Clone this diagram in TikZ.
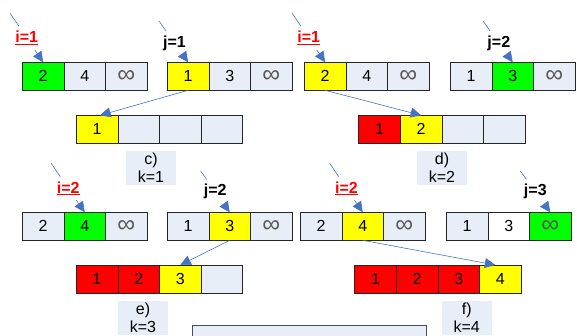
\documentclass[tikz,border=0pt]{standalone}
\usepackage{fontspec}
\setmainfont{Liberation Sans}
\usetikzlibrary{arrows.meta}
\definecolor{light}{HTML}{E8EEF7}
\definecolor{arrowblue}{HTML}{4472C4}
\definecolor{infgray}{HTML}{595959}
\definecolor{cgreen}{HTML}{00FF00}
\definecolor{cyellow}{HTML}{FFFF00}
\definecolor{cred}{HTML}{FF0000}
\newcommand{\infsym}{{\color{infgray}\fontsize{25}{25}\selectfont ∞}}
\tikzset{
  cell/.style={draw=black!85, line width=0.8pt, minimum width=41.6pt, minimum height=28pt,
    inner sep=0pt, outer sep=0pt, font=\fontsize{16}{16}\selectfont, fill=light},
  nxt/.style={anchor=west},
  ilbl/.style={font=\fontsize{16}{16}\selectfont\bfseries, text=red, minimum height=23pt, inner sep=1pt},
  jlbl/.style={font=\fontsize{16}{16}\selectfont\bfseries, text=black, minimum height=24pt, inner sep=1pt},
  lead/.style={draw=arrowblue, line width=0.6pt},
  arr/.style={draw=arrowblue, line width=0.6pt, -{Triangle[length=10.5pt,width=10pt]}, arrowblue},
  klbl/.style={fill=light, minimum width=50pt, minimum height=34pt, inner sep=0pt, align=center,
    font=\fontsize{16}{18.4}\selectfont},
}
\begin{document}
\begin{tikzpicture}[x=1pt,y=-1pt]
\useasboundingbox (0,0) rectangle (577,336);
\clip (0,0) rectangle (577,336);
% ---------- panel c
\node[cell,fill=cgreen,anchor=west] (cA1) at (22.3,76.3) {2};
\node[cell,nxt] (cA2) at (cA1.east) {4};
\node[cell,nxt] (cA3) at (cA2.east) {\infsym};
\node[cell,fill=cyellow,anchor=west] (cB1) at (167.3,76.3) {1};
\node[cell,nxt] (cB2) at (cB1.east) {3};
\node[cell,nxt] (cB3) at (cB2.east) {\infsym};
\node[cell,fill=cyellow,anchor=west] (cR1) at (76.3,129.3) {1};
\node[cell,nxt] (cR2) at (cR1.east) {};
\node[cell,nxt] (cR3) at (cR2.east) {};
\node[cell,nxt] (cR4) at (cR3.east) {};
\node[klbl] (cL) at (151,168) {c)\\k=1};
\coordinate (ciS) at (10,13);
\path (ciS) -- (cA1.north) node[pos=0.507,ilbl] (ci) {\underline{i=1}};
\draw[lead] (ciS) -- (ci);
\draw[arr] (ci) -- (cA1.north);
\coordinate (cjS) at (159,21);
\path (cjS) -- (cB1.north) node[pos=0.533,jlbl] (cj) {j=1};
\draw[lead] (cjS) -- (cj);
\draw[arr] (cj) -- (cB1.north);
\draw[arr] (cB1.south) -- ([xshift=3pt]cR1.north);
% ---------- panel d
\node[cell,fill=cyellow,anchor=west] (dA1) at (304.3,76.3) {2};
\node[cell,nxt] (dA2) at (dA1.east) {4};
\node[cell,nxt] (dA3) at (dA2.east) {\infsym};
\node[cell,anchor=west] (dB1) at (450.3,76.3) {1};
\node[cell,nxt,fill=cgreen] (dB2) at (dB1.east) {3};
\node[cell,nxt] (dB3) at (dB2.east) {\infsym};
\node[cell,fill=cred,anchor=west] (dR1) at (358.7,129.3) {1};
\node[cell,nxt,fill=cyellow] (dR2) at (dR1.east) {2};
\node[cell,nxt] (dR3) at (dR2.east) {};
\node[cell,nxt] (dR4) at (dR3.east) {};
\node[klbl] (dL) at (442,168) {d)\\k=2};
\coordinate (diS) at (292,13);
\path (diS) -- (dA1.north) node[pos=0.507,ilbl] (di) {\underline{i=1}};
\draw[lead] (diS) -- (di);
\draw[arr] (di) -- (dA1.north);
\coordinate (djS) at (483,21);
\path (djS) -- (dB2.north) node[pos=0.533,jlbl] (dj) {j=2};
\draw[lead] (djS) -- (dj);
\draw[arr] (dj) -- (dB2.north);
\draw[arr] (dA1.south) -- (dR2.north);
% ---------- panel e
\node[cell,anchor=west] (eA1) at (22.3,226.3) {2};
\node[cell,nxt,fill=cgreen] (eA2) at (eA1.east) {4};
\node[cell,nxt] (eA3) at (eA2.east) {\infsym};
\node[cell,anchor=west] (eB1) at (167.3,226.3) {1};
\node[cell,nxt,fill=cyellow] (eB2) at (eB1.east) {3};
\node[cell,nxt] (eB3) at (eB2.east) {\infsym};
\node[cell,fill=cred,anchor=west] (eR1) at (76.3,279) {1};
\node[cell,nxt,fill=cred] (eR2) at (eR1.east) {2};
\node[cell,nxt,fill=cyellow] (eR3) at (eR2.east) {3};
\node[cell,nxt] (eR4) at (eR3.east) {};
\node[klbl] (eL) at (143,317.7) {e)\\k=3};
\coordinate (eiS) at (51,163);
\path (eiS) -- (eA2.north) node[pos=0.513,ilbl] (ei) {\underline{i=2}};
\draw[lead] (eiS) -- (ei);
\draw[arr] (ei) -- (eA2.north);
\coordinate (ejS) at (200.7,171);
\path (ejS) -- (eB2.north) node[pos=0.5,jlbl] (ej) {j=2};
\draw[lead] (ejS) -- (ej);
\draw[arr] (ej) -- (eB2.north);
\draw[arr] (eB2.south) -- (eR3.north);
% ---------- panel f
\node[cell,anchor=west] (fA1) at (300.3,226.3) {2};
\node[cell,nxt,fill=cyellow] (fA2) at (fA1.east) {4};
\node[cell,nxt] (fA3) at (fA2.east) {\infsym};
\node[cell,anchor=west] (fB1) at (446.3,226.3) {1};
\node[cell,nxt,fill=white] (fB2) at (fB1.east) {3};
\node[cell,nxt,fill=cgreen] (fB3) at (fB2.east) {\infsym};
\node[cell,fill=cred,anchor=west] (fR1) at (354.7,279) {1};
\node[cell,nxt,fill=cred] (fR2) at (fR1.east) {2};
\node[cell,nxt,fill=cred] (fR3) at (fR2.east) {3};
\node[cell,nxt,fill=cyellow] (fR4) at (fR3.east) {4};
\node[klbl] (fL) at (466.7,317.7) {f)\\k=4};
\coordinate (fiS) at (329.7,163.3);
\path (fiS) -- (fA2.north) node[pos=0.51,ilbl] (fi) {\underline{i=2}};
\draw[lead] (fiS) -- (fi);
\draw[arr] (fi) -- (fA2.north);
\coordinate (fjS) at (520.3,171);
\path (fjS) -- (fB3.north) node[pos=0.5,jlbl] (fj) {j=3};
\draw[lead] (fjS) -- (fj);
\draw[arr] (fj) -- (fB3.north);
\draw[arr] (fA2.south) -- ([xshift=-5pt]fR4.north);
% ---------- bottom box (cut off)
\node[draw=black!70, line width=0.8pt, fill=light, minimum width=233.4pt, minimum height=30pt,
  inner sep=0pt, anchor=north west] (bbox) at (192.3,325) {};
\end{tikzpicture}
\end{document}
